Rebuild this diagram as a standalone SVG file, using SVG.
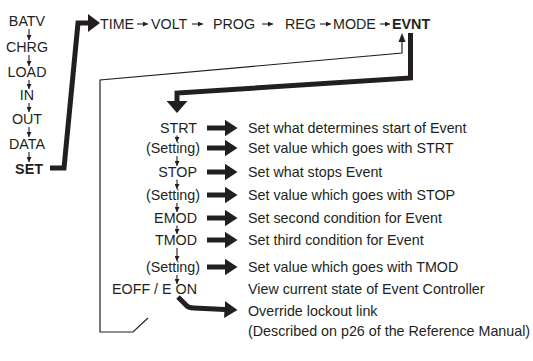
<svg xmlns="http://www.w3.org/2000/svg" width="533" height="361" viewBox="0 0 533 361">
<defs>
<style>
text{font-family:"Liberation Sans",Arial,sans-serif;font-size:14.3px;fill:#231f20}
.b{font-weight:bold}
.m{text-anchor:middle}
.e{text-anchor:end}
.thin{fill:none;stroke:#231f20;stroke-width:1.2}
.sm{fill:none;stroke:#231f20;stroke-width:1.1;marker-end:url(#sa)}
.thick{fill:none;stroke:#231f20;stroke-width:5;stroke-linejoin:miter}
.ra{fill:none;stroke:#231f20;stroke-width:5;marker-end:url(#hd)}
</style>
<marker id="sa" markerUnits="userSpaceOnUse" viewBox="0 0 6 6" refX="6" refY="3" markerWidth="5" markerHeight="5" orient="auto"><path d="M0,0L6,3L0,6z" fill="#231f20"/></marker>
<marker id="hd" markerUnits="userSpaceOnUse" viewBox="0 0 13 17" refX="0.5" refY="8.5" markerWidth="13" markerHeight="17" orient="auto"><path d="M0,0L13,8.5L0,17z" fill="#231f20"/></marker>
<marker id="hs" markerUnits="userSpaceOnUse" viewBox="0 0 12 18" refX="0.5" refY="9" markerWidth="12" markerHeight="18" orient="auto"><path d="M0,0L12,9L0,18z" fill="#231f20"/></marker>
<marker id="hdn" markerUnits="userSpaceOnUse" viewBox="0 0 12 21" refX="0.5" refY="10.5" markerWidth="12" markerHeight="21" orient="auto"><path d="M0,0L12,10.5L0,21z" fill="#231f20"/></marker>
</defs>

<g id="connectors">
<!-- left column small arrows -->
<path class="sm" d="M29,29V40"/>
<path class="sm" d="M29,55V66"/>
<path class="sm" d="M29,80V89"/>
<path class="sm" d="M29,103V112"/>
<path class="sm" d="M29,127V137"/>
<path class="sm" d="M29,152V162"/>
<!-- SET thick arrow -->
<path class="thick" d="M50,168H64L78,23H88.5" style="marker-end:url(#hs)"/>
<!-- top row small arrows -->
<path class="sm" d="M137,24H148"/>
<path class="sm" d="M192,24H203"/>
<path class="sm" d="M262,24H273"/>
<path class="sm" d="M320,24H331"/>
<path class="sm" d="M380,24H390"/>
<!-- thin return loop -->
<path class="thin" d="M148,318L133,332H100V80L402,53V37"/>
<path d="M398.5,42L402,33L405.5,42z" fill="#231f20"/>
<!-- thick EVNT to STRT -->
<path class="thick" d="M410.5,33V78L177,93V101.5" style="marker-end:url(#hdn)"/>
<!-- node column small arrows -->
<path class="sm" d="M177,135.5V142"/>
<path class="sm" d="M177,156V166"/>
<path class="sm" d="M177,179.5V189"/>
<path class="sm" d="M177,203V212"/>
<path class="sm" d="M177,225.5V234"/>
<path class="sm" d="M177,248V261"/>
<path class="sm" d="M177,275V284"/>
<!-- right thick arrows -->
<path class="ra" d="M207,128H225"/>
<path class="ra" d="M207,148H225"/>
<path class="ra" d="M207,172H225"/>
<path class="ra" d="M207,195H225"/>
<path class="ra" d="M207,218H225"/>
<path class="ra" d="M207,240H225"/>
<path class="ra" d="M207,267H225"/>
<path class="ra" d="M178,297L186,305Q188,308 194,308L225,309.5"/>
</g>

<g id="n-batv"><text class="m" x="27" y="26">BATV</text></g>
<g id="n-chrg"><text class="m" x="27" y="52">CHRG</text></g>
<g id="n-load"><text class="m" x="27" y="77">LOAD</text></g>
<g id="n-in"><text class="m" x="27" y="100">IN</text></g>
<g id="n-out"><text class="m" x="27" y="124">OUT</text></g>
<g id="n-data"><text class="m" x="27" y="149">DATA</text></g>
<g id="n-set"><text class="m b" x="29" y="174">SET</text></g>

<g id="n-time"><text x="100" y="29">TIME</text></g>
<g id="n-volt"><text x="151" y="29">VOLT</text></g>
<g id="n-prog"><text x="213" y="29">PROG</text></g>
<g id="n-reg"><text x="285" y="29">REG</text></g>
<g id="n-mode"><text x="333" y="29">MODE</text></g>
<g id="n-evnt"><text class="b" x="392" y="29">EVNT</text></g>

<g id="n-strt"><text class="e" x="197" y="133">STRT</text><text x="248" y="133">Set what determines start of Event</text></g>
<g id="n-setting1"><text class="e" x="200" y="153">(Setting)</text><text x="248" y="153">Set value which goes with STRT</text></g>
<g id="n-stop"><text class="e" x="197" y="177">STOP</text><text x="248" y="177">Set what stops Event</text></g>
<g id="n-setting2"><text class="e" x="200" y="200">(Setting)</text><text x="248" y="200">Set value which goes with STOP</text></g>
<g id="n-emod"><text class="e" x="197" y="223">EMOD</text><text x="248" y="223">Set second condition for Event</text></g>
<g id="n-tmod"><text class="e" x="197" y="245">TMOD</text><text x="248" y="245">Set third condition for Event</text></g>
<g id="n-setting3"><text class="e" x="200" y="272">(Setting)</text><text x="248" y="272">Set value which goes with TMOD</text></g>
<g id="n-eoff"><text class="e" x="197" y="294">EOFF / E ON</text><text x="248" y="294">View current state of Event Controller</text></g>
<g id="n-override"><text x="248" y="316">Override lockout link</text><text x="248" y="336">(Described on p26 of the Reference Manual)</text></g>
</svg>
